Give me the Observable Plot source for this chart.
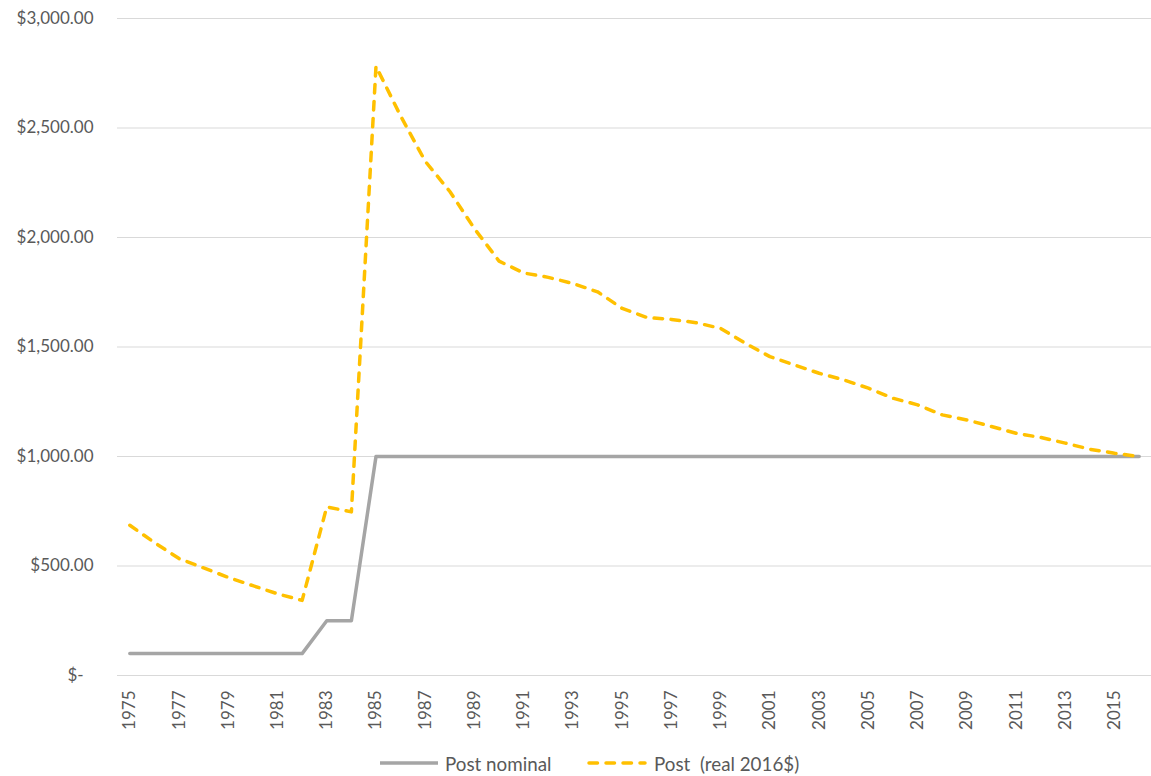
<!DOCTYPE html>
<html><head><meta charset="utf-8">
<script src="https://cdn.jsdelivr.net/npm/d3@7"></script>
<script src="https://cdn.jsdelivr.net/npm/@observablehq/plot@0.6"></script>
<style>
body{margin:0;background:#fff;font-family:Lato,sans-serif;color:#595959;}
#chart svg{display:block;}
#legend{position:relative;height:26px;width:1151px;font-size:18.8px;}
#legend .item{position:absolute;top:0;height:26px;display:flex;align-items:center;white-space:pre;}
#legend svg{display:block;margin-right:7px;}
</style></head><body>
<div id="chart"></div>
<div id="legend"></div>
<script>
const years = [1975,1976,1977,1978,1979,1980,1981,1982,1983,1984,1985,1986,1987,1988,1989,1990,1991,1992,1993,1994,1995,1996,1997,1998,1999,2000,2001,2002,2003,2004,2005,2006,2007,2008,2009,2010,2011,2012,2013,2014,2015,2016];
const nominal = [100,100,100,100,100,100,100,100,250,250,1000,1000,1000,1000,1000,1000,1000,1000,1000,1000,1000,1000,1000,1000,1000,1000,1000,1000,1000,1000,1000,1000,1000,1000,1000,1000,1000,1000,1000,1000,1000,1000];
const real = [686,607,534,491,448,410,373,343,770,747,2782,2555,2348,2210,2040,1892,1838,1818,1790,1752,1676,1635,1626,1611,1585,1517,1456,1418,1380,1350,1312,1266,1236,1190,1167,1137,1106,1087,1061,1033,1015,1000];
const tickYears = [1975,1977,1979,1981,1983,1985,1987,1989,1991,1993,1995,1997,1999,2001,2003,2005,2007,2009,2011,2013,2015];
const yTicks = [0,500,1000,1500,2000,2500,3000];
const xDomain = [1974.5, 2016.5]; // category axis: half a year of space at each end
const seriesNames = ["Post nominal", "Post  (real 2016$)"];
const seriesColors = ["#a5a5a5", "#ffc000"];

const nominalRows = years.map((y, i) => ({year: y, value: nominal[i]}));
const realRows = years.map((y, i) => ({year: y, value: real[i]}));

const chart = Plot.plot({
  width: 1151, height: 750,
  marginLeft: 117, marginRight: 0, marginTop: 18, marginBottom: 75,
  style: {fontFamily: "Lato, sans-serif", fontSize: "17px", color: "#595959", background: "#fff"},
  x: {type: "linear", domain: xDomain},
  y: {domain: [0, 3000]},
  marks: [
    Plot.gridY(yTicks, {stroke: "#d9d9d9", strokeOpacity: 1, strokeWidth: 1}),
    Plot.axisY(yTicks, {tickSize: 0, tickPadding: 24, label: null, fill: "#595959",
      tickFormat: d => d === 0 ? "$-\u2007" : "$" + d3.format(",.2f")(d)}),
    Plot.axisX(tickYears, {tickSize: 0, tickPadding: 15, tickRotate: -90, label: null, fill: "#595959",
      tickFormat: d => String(d)}),
    Plot.line(nominalRows, {x: "year", y: "value", stroke: seriesColors[0], strokeWidth: 3.5, strokeLinejoin: "round"}),
    Plot.line(realRows, {x: "year", y: "value", stroke: seriesColors[1], strokeWidth: 3.5, strokeDasharray: "8.5,8.5", strokeLinecap: "round", strokeLinejoin: "round"})
  ]
});
document.getElementById("chart").appendChild(chart);

const legend = document.getElementById("legend");
const lefts = [380, 587];
seriesNames.forEach((name, i) => {
  const item = document.createElement("div");
  item.className = "item";
  item.style.left = lefts[i] + "px";
  const dash = i === 1 ? 'stroke-dasharray="8.5,8.5" stroke-linecap="round"' : '';
  const w = i === 1 ? 60 : 58;
  item.innerHTML = `<svg width="${w}" height="10"><line x1="${i===1?2:0}" x2="${i===1?w-2:w}" y1="5" y2="5" stroke="${seriesColors[i]}" stroke-width="3.5" ${dash}/></svg><span>${name}</span>`;
  legend.appendChild(item);
});
</script>
</body></html>
